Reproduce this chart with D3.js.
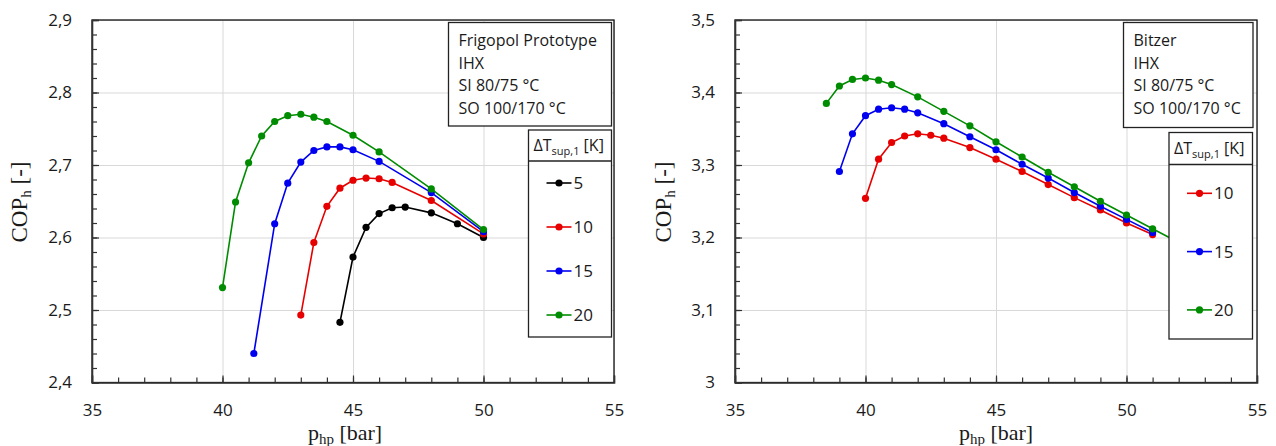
<!DOCTYPE html>
<html>
<head>
<meta charset="utf-8">
<script src="https://cdn.jsdelivr.net/npm/d3@7"></script>
<style>
  body { margin: 0; background: #fff; }
  svg text { font-family: "Open Sans", sans-serif; fill: #1a1a1a; }
  .ttl { font-family: "Liberation Serif", "DejaVu Serif", serif; }
</style>
</head>
<body>
<div id="chart"></div>
<script>
// left chart: Frigopol Prototype, COP_h vs p_hp for each superheat
var frigoP5 = [44.5, 45, 45.5, 46, 46.5, 47, 48, 49, 50];
var frigoCop5 = [2.483, 2.573, 2.614, 2.633, 2.641, 2.642, 2.634, 2.619, 2.600];
var frigoP10 = [43, 43.5, 44, 44.5, 45, 45.5, 46, 46.5, 48, 50];
var frigoCop10 = [2.493, 2.593, 2.643, 2.668, 2.679, 2.682, 2.681, 2.676, 2.651, 2.605];
var frigoP15 = [41.2, 42, 42.5, 43, 43.5, 44, 44.5, 45, 46, 48, 50];
var frigoCop15 = [2.440, 2.619, 2.675, 2.704, 2.720, 2.725, 2.725, 2.721, 2.705, 2.662, 2.608];
var frigoP20 = [40, 40.5, 41, 41.5, 42, 42.5, 43, 43.5, 44, 45, 46, 48, 50];
var frigoCop20 = [2.531, 2.649, 2.703, 2.740, 2.760, 2.768, 2.770, 2.766, 2.760, 2.741, 2.718, 2.667, 2.611];

// right chart: Bitzer
var bitzerP10 = [40, 40.5, 41, 41.5, 42, 42.5, 43, 44, 45, 46, 47, 48, 49, 50, 51];
var bitzerCop10 = [3.254, 3.308, 3.331, 3.340, 3.343, 3.341, 3.337, 3.324, 3.308, 3.291, 3.273, 3.255, 3.238, 3.220, 3.204];
var bitzerP15 = [39, 39.5, 40, 40.5, 41, 41.5, 42, 43, 44, 45, 46, 47, 48, 49, 50, 51];
var bitzerCop15 = [3.291, 3.343, 3.368, 3.377, 3.379, 3.377, 3.372, 3.357, 3.339, 3.321, 3.301, 3.282, 3.262, 3.243, 3.225, 3.207];
var bitzerP20 = [38.5, 39, 39.5, 40, 40.5, 41, 42, 43, 44, 45, 46, 47, 48, 49, 50, 51, 52];
var bitzerCop20 = [3.385, 3.409, 3.418, 3.420, 3.417, 3.411, 3.394, 3.374, 3.354, 3.332, 3.311, 3.290, 3.270, 3.250, 3.231, 3.212, 3.193];

var xTicks = [35, 40, 45, 50, 55];
var frigoYTicks = [2.4, 2.5, 2.6, 2.7, 2.8, 2.9];
var bitzerYTicks = [3.0, 3.1, 3.2, 3.3, 3.4, 3.5];
var frigoInfo = ["Frigopol Prototype", "IHX", "SI 80/75 °C", "SO 100/170 °C"];
var bitzerInfo = ["Bitzer", "IHX", "SI 80/75 °C", "SO 100/170 °C"];
var frigoLegend = ["5", "10", "15", "20"];
var bitzerLegend = ["10", "15", "20"];

var colors = { "5": "#000000", "10": "#e60000", "15": "#0000f0", "20": "#008c00" };

var svg = d3.select('#chart').append('svg')
              .attr('width', 1276)
              .attr('height', 446);

var commaFmt = function(d) {
  if (d === Math.round(d)) return String(d);
  return d3.format('.1f')(d).replace('.', ',');
};

var drawChart = function(c) {
  var x = d3.scaleLinear().domain([35, 55]).range([c.left, c.right]);
  var y = d3.scaleLinear().domain([c.yTicks[0], c.yTicks[c.yTicks.length - 1]]).range([c.bottom, c.top]);
  var w = c.right - c.left, h = c.bottom - c.top;
  var g = svg.append('g');

  // gridlines
  g.append('g').attr('transform', 'translate(0,' + c.bottom + ')')
    .call(d3.axisBottom(x).tickValues(xTicks).tickSize(-h).tickFormat(''))
    .call(function(s) { s.select('.domain').remove(); s.selectAll('line').attr('stroke', '#d9d9d9'); });
  g.append('g').attr('transform', 'translate(' + c.left + ',0)')
    .call(d3.axisLeft(y).tickValues(c.yTicks).tickSize(-w).tickFormat(''))
    .call(function(s) { s.select('.domain').remove(); s.selectAll('line').attr('stroke', '#d9d9d9'); });

  // frame
  g.append('rect')
    .attr('x', c.left).attr('y', c.top)
    .attr('width', w).attr('height', h)
    .style('fill', 'none').style('stroke', '#111').style('stroke-width', 1.3);

  // minor ticks
  g.append('g').attr('transform', 'translate(0,' + c.bottom + ')')
    .call(d3.axisBottom(x).tickValues(d3.range(36, 55, 1)).tickSize(-5).tickFormat(''))
    .call(function(s) { s.select('.domain').remove(); s.selectAll('line').attr('stroke', '#333').attr('stroke-width', 1.2); });
  var y0 = c.yTicks[0], y1 = c.yTicks[c.yTicks.length - 1];
  g.append('g').attr('transform', 'translate(' + c.left + ',0)')
    .call(d3.axisLeft(y).tickValues(d3.range(0, 26).map(function(i) { return y0 + i * (y1 - y0) / 25; })).tickSize(-5).tickFormat(''))
    .call(function(s) { s.select('.domain').remove(); s.selectAll('line').attr('stroke', '#333').attr('stroke-width', 1.2); });

  // major axes with labels
  var xa = g.append('g').attr('transform', 'translate(0,' + c.bottom + ')')
    .call(d3.axisBottom(x).tickValues(xTicks).tickSize(-7).tickPadding(21).tickFormat(d3.format('d')));
  var ya = g.append('g').attr('transform', 'translate(' + c.left + ',0)')
    .call(d3.axisLeft(y).tickValues(c.yTicks).tickSize(-7).tickPadding(20).tickFormat(commaFmt));
  [xa, ya].forEach(function(a) {
    a.select('.domain').attr('stroke', '#333').attr('stroke-width', 1.6);
    a.selectAll('line').attr('stroke', '#333').attr('stroke-width', 1.2);
    a.selectAll('text').style('font-size', '17px').style('fill', '#1a1a1a');
  });

  // series
  var line = d3.line().x(function(d) { return x(d[0]); }).y(function(d) { return y(d[1]); });
  c.series.forEach(function(s) {
    var pts = s.p.map(function(p, i) { return [p, s.cop[i]]; });
    g.append('path').datum(pts)
      .attr('d', line)
      .style('fill', 'none').style('stroke', colors[s.key]).style('stroke-width', 1.6);
    g.selectAll('.pt' + s.key).data(pts).enter()
      .append('circle')
      .attr('cx', function(d) { return x(d[0]); })
      .attr('cy', function(d) { return y(d[1]); })
      .attr('r', 3.6)
      .style('fill', colors[s.key]);
  });

  // axis titles
  var yt = g.append('text').attr('class', 'ttl')
    .attr('transform', 'translate(' + c.yTitleX + ',' + 202 + ') rotate(-90)')
    .attr('text-anchor', 'middle')
    .style('font-size', '23px');
  yt.append('tspan').text('COP');
  yt.append('tspan').text('h').attr('dy', 4).style('font-size', '15px');
  yt.append('tspan').text(' [-]').attr('dy', -4);

  var xt = g.append('text').attr('class', 'ttl')
    .attr('x', c.xTitleX).attr('y', 440)
    .attr('text-anchor', 'middle')
    .style('font-size', '22px');
  xt.append('tspan').text('p');
  xt.append('tspan').text('hp').attr('dy', 4).style('font-size', '15px');
  xt.append('tspan').text(' [bar]').attr('dy', -4);

  // info box
  var ib = c.info;
  g.append('rect')
    .attr('x', ib.x).attr('y', ib.y).attr('width', ib.w).attr('height', ib.h)
    .style('fill', '#fff').style('stroke', '#222').style('stroke-width', 1.3);
  g.selectAll('.info').data(c.infoLines).enter()
    .append('text')
    .attr('x', ib.x + 10)
    .attr('y', function(d, i) { return ib.y + 23.5 + i * 22.5; })
    .style('font-size', '16px')
    .text(function(d) { return d; });

  // legend box
  var lb = c.legend;
  g.append('rect')
    .attr('x', lb.x).attr('y', lb.y).attr('width', lb.w).attr('height', lb.h)
    .style('fill', '#fff').style('stroke', '#222').style('stroke-width', 1.3);
  g.append('line')
    .attr('x1', lb.x).attr('x2', lb.x + lb.w)
    .attr('y1', lb.y + lb.head).attr('y2', lb.y + lb.head)
    .style('stroke', '#222').style('stroke-width', 1.3);
  var lt = g.append('text')
    .attr('x', lb.x + 5).attr('y', lb.y + 21)
    .style('font-size', '16px');
  lt.append('tspan').text('ΔT');
  lt.append('tspan').text('sup,1').attr('dy', 4).style('font-size', '11px');
  lt.append('tspan').text(' [K]').attr('dy', -4);

  c.legendKeys.forEach(function(k, i) {
    var ly = lb.first + i * lb.step;
    g.append('line')
      .attr('x1', lb.x + lb.lx0).attr('x2', lb.x + lb.lx0 + 25)
      .attr('y1', ly).attr('y2', ly)
      .style('stroke', colors[k]).style('stroke-width', 1.6);
    g.append('circle')
      .attr('cx', lb.x + lb.lx0 + 12.5).attr('cy', ly).attr('r', 3.6)
      .style('fill', colors[k]);
    g.append('text')
      .attr('x', lb.x + lb.lx0 + 27).attr('y', ly + 6)
      .style('font-size', '17px')
      .text(k);
  });
};

drawChart({
  left: 92, right: 614, top: 20, bottom: 382.5,
  yTicks: frigoYTicks, yTitleX: 27, xTitleX: 345,
  series: [
    { key: "5", p: frigoP5, cop: frigoCop5 },
    { key: "10", p: frigoP10, cop: frigoCop10 },
    { key: "15", p: frigoP15, cop: frigoCop15 },
    { key: "20", p: frigoP20, cop: frigoCop20 }
  ],
  info: { x: 448.5, y: 22.5, w: 163, h: 103.5 },
  infoLines: frigoInfo,
  legend: { x: 528.5, y: 130, w: 83, h: 207, head: 31, first: 183, step: 44, lx0: 18 },
  legendKeys: frigoLegend
});

drawChart({
  left: 735, right: 1257, top: 20, bottom: 382.5,
  yTicks: bitzerYTicks, yTitleX: 671, xTitleX: 996,
  series: [
    { key: "10", p: bitzerP10, cop: bitzerCop10 },
    { key: "15", p: bitzerP15, cop: bitzerCop15 },
    { key: "20", p: bitzerP20, cop: bitzerCop20 }
  ],
  info: { x: 1123.5, y: 22.5, w: 129.5, h: 105 },
  infoLines: bitzerInfo,
  legend: { x: 1169, y: 132.5, w: 83.5, h: 206.5, head: 32, first: 193.3, step: 58.3, lx0: 18 },
  legendKeys: bitzerLegend
});
</script>
</body>
</html>
